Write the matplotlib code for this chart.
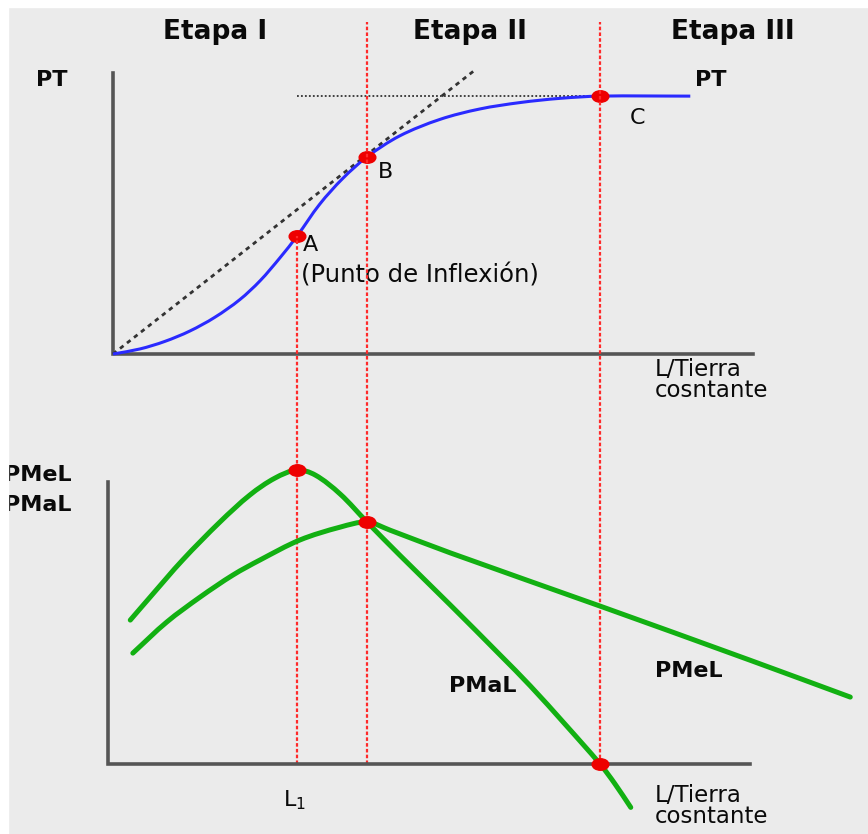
import numpy as np
import matplotlib.pyplot as plt
from matplotlib.patches import Rectangle, PathPatch
from matplotlib.path import Path
from matplotlib.transforms import Affine2D

# --- data (L = trabajo, PT = producto total, P = productividad) ---
# producto total
l_pt = [0, 4.2, 8.1, 12.0, 15.9, 19.8, 23.0, 26.1, 28.75, 32.3, 35.9, 39.7,
        44.8, 51.1, 57.3, 63.6, 69.8, 76.1, 90.2]
pt = [0, 1.8, 4.5, 8.2, 13.1, 19.4, 26.2, 34.4, 42.1, 53.5, 62.7, 70.4,
      77.9, 83.8, 87.5, 89.8, 91.3, 92.1, 92.1]

# puntos A, B, C
pts_l = [28.75, 39.7, 76.1]
pts_pt = [42.1, 70.4, 92.1]

# tangente desde el origen y nivel maximo
tan_l = [0, 56.6]
tan_pt = [0, 101.5]
max_l = [28.75, 90.2]
max_pt = [92.1, 92.1]

# producto marginal
l_pma = [2.7, 5.8, 10.9, 16.7, 21.4, 25.3, 28.75, 31.6, 35.5, 39.7, 44.8,
         52.7, 60.5, 65.2, 70.6, 76.1, 78.4, 80.9]
pma = [51.4, 59.6, 72.9, 86.4, 96.1, 102.1, 105.0, 103.2, 96.4, 86.4, 74.6,
       56.8, 38.9, 27.9, 14.3, 0.0, -7.0, -15.5]

# producto medio
l_pme = [3.1, 8.4, 13.6, 18.75, 23.0, 29.2, 35.5, 39.7, 43.3, 52.7, 76.1, 99.5, 115.2]
pme = [39.6, 50.7, 59.6, 67.5, 72.9, 80.0, 84.6, 86.4, 83.5, 75.4, 56.4, 37.1, 23.9]

# puntos inferiores
low_l = [28.75, 39.7, 76.1]
low_p = [105.0, 86.4, 0.0]

# limites entre etapas
stage_l = [28.75, 39.7, 76.1]
stage_names = ["Etapa I", "Etapa II", "Etapa III"]
stage_text_l = [15.9, 55.8, 96.9]

# --- figure ---
W, H = 868, 834
fig = plt.figure(figsize=(W / 100, H / 100), dpi=100)
fig.add_artist(Rectangle((8 / W, 0), 1, 1 - 7 / H, transform=fig.transFigure,
                         color="#ebebeb", zorder=-5))

# pixel layout of the two panels (same L scale)
X0, SX = 113, 6.4          # px of L=0, px per unit L
Y0_TOP, SY_TOP = 354, 2.8  # px of PT=0
Y0_BOT, SY_BOT = 764, 2.8  # px of P=0

ax_top = fig.add_axes([0, 0, 1, 1])
ax_bot = fig.add_axes([0, 0, 1, 1])
for ax, y0, sy in ((ax_top, Y0_TOP, SY_TOP), (ax_bot, Y0_BOT, SY_BOT)):
    ax.set_xlim(-X0 / SX, (W - X0) / SX)
    ax.set_ylim((y0 - H) / sy, y0 / sy)
    ax.axis("off")

axis_col = "#555555"
green = "#12b012"
red = "#ff2a2a"


def smooth_curve(ax, x, y, **kw):
    # read points joined by a smooth bezier path (chord-length hermite)
    p = np.column_stack([x, y]).astype(float)
    d = ax.transData.transform(p)
    t = np.concatenate([[0], np.cumsum(np.hypot(*np.diff(d, axis=0).T))])
    m = np.zeros_like(p)
    m[1:-1] = (p[2:] - p[:-2]) / (t[2:] - t[:-2])[:, None]
    m[0] = (p[1] - p[0]) / (t[1] - t[0])
    m[-1] = (p[-1] - p[-2]) / (t[-1] - t[-2])
    verts, codes = [p[0]], [Path.MOVETO]
    for i in range(len(p) - 1):
        h = (t[i + 1] - t[i]) / 3
        verts += [p[i] + m[i] * h, p[i + 1] - m[i + 1] * h, p[i + 1]]
        codes += [Path.CURVE4] * 3
    ax.add_patch(PathPatch(Path(verts, codes), fill=False, **kw))


# ejes
ax_top.plot([0, 0, 100], [100.4, 0, 0], color=axis_col, lw=2.6,
            solid_joinstyle="miter", zorder=2)
ax_bot.plot([-0.8, -0.8, 99.5], [100.7, 0, 0], color=axis_col, lw=2.6,
            solid_joinstyle="miter", zorder=2)


def top_to_bot(v):
    disp = ax_top.transData.transform((0, v))
    return ax_bot.transData.inverted().transform(disp)[1]


# lineas rojas entre etapas
tops = [top_to_bot(pts_pt[0]), top_to_bot(118.5), top_to_bot(118.5)]
for x, t in zip(stage_l, tops):
    ax_bot.plot([x, x], [0, t], color=red, lw=1.6, ls=(0, (1.6, 1.0)), zorder=1)

# panel superior
ax_top.plot(tan_l, tan_pt, color="#333333", lw=2.0, ls=(0, (1.6, 1.6)), zorder=2)
ax_top.plot(max_l, max_pt, color="#333333", lw=1.3, ls=(0, (1, 1.2)), zorder=2)
smooth_curve(ax_top, l_pt, pt, edgecolor="#2a2aff", lw=2.2, zorder=3)

ellipse = Path.unit_circle().transformed(Affine2D().scale(1.45, 1.0))
ax_top.plot(pts_l, pts_pt, ls="none", marker=ellipse, ms=12, color="#ee0000", zorder=4)

# panel inferior
smooth_curve(ax_bot, l_pma, pma, edgecolor=green, lw=3.6, capstyle="round", zorder=3)
smooth_curve(ax_bot, l_pme, pme, edgecolor=green, lw=3.6, capstyle="round", zorder=3)
ax_bot.plot(low_l, low_p, ls="none", marker=ellipse, ms=12, color="#ee0000", zorder=4)

# textos
txt = dict(color="#0a0a0a", family="DejaVu Sans")
for name, x in zip(stage_names, stage_text_l):
    ax_top.text(x, 115.0, name, ha="center", va="center", fontsize=19,
                fontweight="bold", **txt)
ax_top.text(-9.5, 97.9, "PT", ha="center", va="center", fontsize=16, fontweight="bold", **txt)
ax_top.text(93.4, 97.9, "PT", ha="center", va="center", fontsize=16, fontweight="bold", **txt)
ax_top.text(29.6, 38.9, "A", ha="left", va="center", fontsize=16, **txt)
ax_top.text(29.4, 28.2, "(Punto de Inflexión)", ha="left", va="center", fontsize=17.5, **txt)
ax_top.text(41.4, 65.0, "B", ha="left", va="center", fontsize=16, **txt)
ax_top.text(80.8, 84.3, "C", ha="left", va="center", fontsize=16, **txt)
ax_top.text(84.7, -9.3, "L/Tierra\ncosntante", ha="left", va="center", fontsize=16.5,
            linespacing=0.9, **txt)

ax_bot.text(-17.0, 103.2, "PMeL", ha="left", va="center", fontsize=16, fontweight="bold", **txt)
ax_bot.text(-17.0, 92.5, "PMaL", ha="left", va="center", fontsize=16, fontweight="bold", **txt)
ax_bot.text(52.5, 27.9, "PMaL", ha="left", va="center", fontsize=16, fontweight="bold", **txt)
ax_bot.text(84.7, 33.2, "PMeL", ha="left", va="center", fontsize=16, fontweight="bold", **txt)
ax_bot.text(26.6, -12.9, "L$_1$", ha="left", va="center", fontsize=16, **txt)
ax_bot.text(84.7, -14.9, "L/Tierra\ncosntante", ha="left", va="center", fontsize=16.5,
            linespacing=0.9, **txt)

# borde blanco superior/izquierdo
fig.add_artist(Rectangle((0, 0), 8 / W, 1, transform=fig.transFigure,
                         color="white", zorder=10))
fig.add_artist(Rectangle((0, 1 - 7 / H), 1, 7 / H, transform=fig.transFigure,
                         color="white", zorder=10))

fig.savefig("out.png", dpi=100)
